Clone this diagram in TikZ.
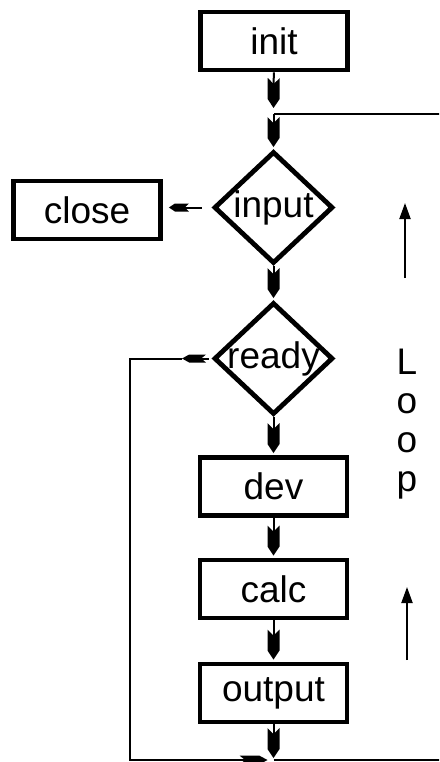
\documentclass[tikz,border=0pt]{standalone}
\usepackage{fontspec}
\setmainfont{Liberation Sans}
\usetikzlibrary{arrows.meta,shapes.geometric}
\pgfdeclarearrow{
  name = Dart,
  parameters = {\the\pgfarrowlength,\the\pgfarrowwidth},
  setup code = {
    \pgfarrowssettipend{0pt}
    \pgfarrowssetlineend{-0.6\pgfarrowlength}
    \pgfarrowssetbackend{-\pgfarrowlength}
    \pgfarrowssetvisualbackend{-0.8\pgfarrowlength}
    \pgfarrowsupperhullpoint{0pt}{0pt}
    \pgfarrowsupperhullpoint{-\pgfarrowlength}{0.5\pgfarrowwidth}
  },
  drawing code = {
    \pgfpathmoveto{\pgfpointorigin}
    \pgfpathlineto{\pgfpoint{-0.3\pgfarrowlength}{0.5\pgfarrowwidth}}
    \pgfpathlineto{\pgfpoint{-\pgfarrowlength}{0.5\pgfarrowwidth}}
    \pgfpathlineto{\pgfpoint{-0.8\pgfarrowlength}{0pt}}
    \pgfpathlineto{\pgfpoint{-\pgfarrowlength}{-0.5\pgfarrowwidth}}
    \pgfpathlineto{\pgfpoint{-0.3\pgfarrowlength}{-0.5\pgfarrowwidth}}
    \pgfpathclose
    \pgfusepathqfill
  },
  defaults = {length = 30pt, width = 12pt}
}
\begin{document}
\begin{tikzpicture}[x=1pt,y=-1pt,
  every node/.style={font=\fontsize{37}{39}\selectfont},
  procbox/.style={draw, line width=4.8pt, minimum width=147pt, minimum height=58pt, inner sep=0pt},
  decbox/.style={draw, diamond, line width=4.8pt, minimum width=119pt, minimum height=112pt, inner sep=-10pt},
  conn/.style={line width=2pt},
  bigdart/.style={-{Dart[length=30pt,width=12pt]}},
  smalldart/.style={-{Dart[length=20pt,width=8pt]}},
  uparrow/.style={line width=2pt, -{Triangle[length=16pt,width=11pt]}}
]
\clip (0,0) rectangle (439,762);
\fill[white] (0,0) rectangle (439,762);
\node[procbox] (init) at (274,41) {init};
\node[decbox] (input) at (273.5,207.5) {input};
\node[procbox] (close) at (87,210) {close};
\node[decbox] (ready) at (273.5,358.5) {ready};
\node[procbox] (dev) at (273.5,486.5) {dev};
\node[procbox] (calc) at (273.5,589) {calc};
\node[procbox] (output) at (273.5,693) {output};
\coordinate (tj) at (273.5,114);
\coordinate (tr) at (450,114);
\coordinate (bj) at (273.5,760);
\coordinate (br) at (450,760);
\coordinate (rtip) at (182,358.5);
\coordinate (lc) at (130,358.5);
\coordinate (lb) at (130,760);
\coordinate (ua1s) at (405,278);
\coordinate (ua1e) at (405,203);
\coordinate (ua2s) at (407,660);
\coordinate (ua2e) at (407,587);
\draw[conn,bigdart,shorten >=6pt] (init) -- (tj);
\draw[conn] (tr) -- (tj);
\draw[conn,bigdart,shorten >=2pt] (tj) -- (input);
\draw[conn,smalldart,shorten <=10pt,shorten >=6pt] (input.west) -- (input.west -| close.east);
\draw[conn,bigdart,shorten >=2pt] (input) -- (ready);
\draw[conn,-{Dart[length=24pt,width=8pt]},shorten <=3pt] (ready.west) -- (rtip);
\draw[conn,-{Dart[length=28pt,width=9pt]},shorten >=6pt] (rtip) -- (lc) -- (lb) -- (bj);
\draw[conn,bigdart,shorten >=2pt] (ready) -- (dev);
\draw[conn,bigdart,shorten >=2pt] (dev) -- (calc);
\draw[conn,bigdart,shorten >=2pt] (calc) -- (output);
\draw[conn,bigdart,shorten >=2pt] (output) -- (bj);
\draw[conn] (bj) -- (br) -- (tr);
\draw[uparrow] (ua1s) -- (ua1e);
\draw[uparrow] (ua2s) -- (ua2e);
\node[anchor=north, align=center, inner sep=0pt] (loop) at (407,349) {L\\o\\o\\p};
\end{tikzpicture}
\end{document}
